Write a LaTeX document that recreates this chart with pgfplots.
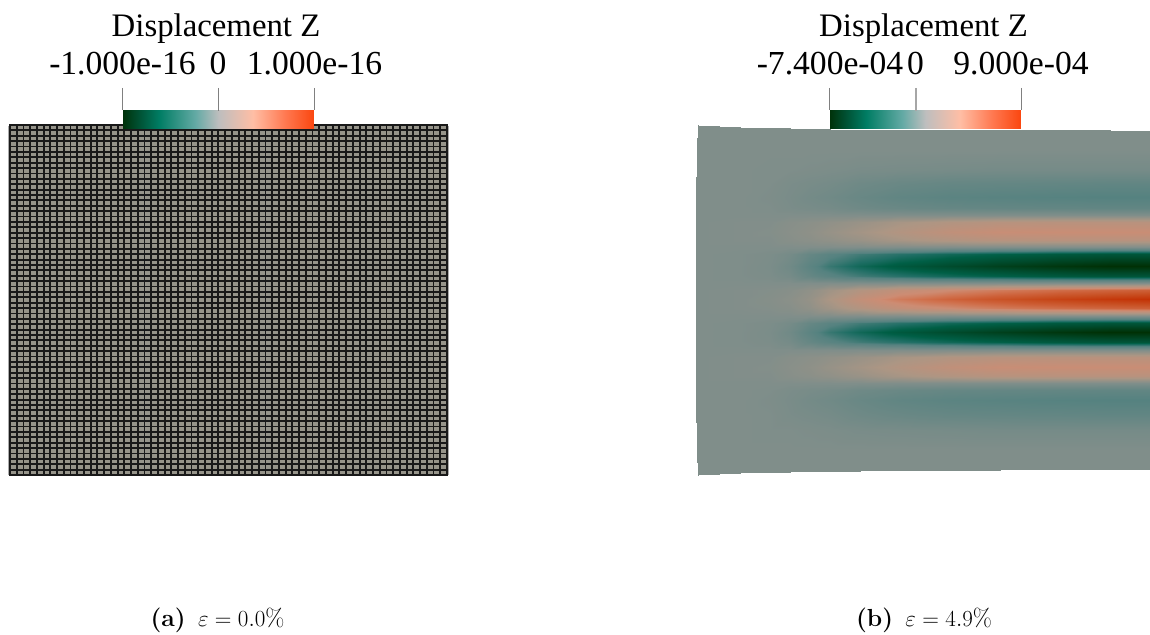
\documentclass[border=0pt]{standalone}
\usepackage{fontspec}
\usepackage{pgfplots}
\pgfplotsset{compat=1.18}
\newfontfamily\cbfamily{Liberation Serif}
\newcommand\cbf{\fontsize{24.6}{28}\selectfont\cbfamily}
\newcommand\cbl{\fontsize{25.2}{28}\selectfont\cbfamily}
\newcommand\capf{\fontsize{18.5}{21}\selectfont}
\pgfplotsset{
 colormap={cb}{rgb255(0)=(0,50,10); rgb255(8)=(0,80,50); rgb255(19)=(0,125,100); rgb255(38)=(100,170,165); rgb255(50)=(190,190,190); rgb255(68)=(255,190,165); rgb255(85)=(255,120,80); rgb255(100)=(250,70,15)},
 colormap={field}{rgb255(0)=(0,48,5); rgb255(22)=(0,75,45); rgb255(38)=(0,95,70); rgb255(50)=(30,110,100); rgb255(67)=(85,130,128); rgb255(100)=(128,142,138); rgb255(125)=(172,150,132); rgb255(150)=(205,140,115); rgb255(162)=(208,115,80); rgb255(172)=(205,95,55); rgb255(182)=(200,80,35); rgb255(200)=(195,50,5)},
}
\begin{document}
\begin{tikzpicture}[x=1pt,y=1pt]
\path[use as bounding box] (0,0) rectangle (862.5,476.25);
% left panel: 65 x 65 mesh
\fill[black!33] (6,120) rectangle (337,382);
\begin{axis}[
 anchor=south west, at={(7.5pt,120pt)},
 scale only axis, width=327.75pt, height=262.5pt,
 xmin=0, xmax=65, ymin=0, ymax=65,
 xtick={0,...,65}, ytick={0,...,65},
 xticklabels={}, yticklabels={},
 major tick length=0pt,
 grid=major, grid style={draw=black!90, line width=1.4pt},
 axis line style={draw=black!90, line width=1.3pt},
 axis background/.style={fill={rgb,255:red,150;green,148;blue,138}},
 axis on top,
]
\addplot[draw=none] coordinates {(0,0) (65,65)};
\end{axis}
\begin{axis}[
 anchor=south west, at={(0pt,0pt)},
 scale only axis, width=862.5pt, height=476.25pt,
 xmin=0, xmax=1150, ymin=0, ymax=635, y dir=reverse,
 hide axis, clip=false,
 point meta min=-1, point meta max=1,
]
% right panel field
\addplot[surf, shader=interp, colormap name=field, mesh/rows=33, mesh/cols=13, mesh/ordering=y varies, point meta=explicit] table[meta=c, row sep=\\] {
x y c\\
698.3 125 0\\ 697.2 150 0\\ 696.5 170 0\\ 696.2 183 0\\ 696 197 0\\ 695.8 208 0\\ 695.7 215 0\\ 695.6 222 0\\ 695.5 232 0\\ 695.5 240 0\\ 695.5 247 0\\ 695.5 254 0\\ 695.5 266 0\\ 695.5 276 0\\ 695.5 283 0\\ 695.5 290 0\\ 695.5 299 0\\ 695.5 308 0\\ 695.5 316 0\\ 695.5 323 0\\ 695.5 332 0\\ 695.5 342 0\\ 695.5 350 0\\ 695.5 357 0\\ 695.5 367 0\\ 695.6 376 0\\ 695.7 383 0\\ 695.8 390 0\\ 696 400 0\\ 696.2 415 0\\ 696.6 430 0\\ 697.3 450 0\\ 698.3 475 0\\
740 127 0\\ 740 150 0\\ 740 170 0\\ 740 183 0\\ 740 197 0\\ 740 208 0\\ 740 215 0\\ 740 222 .01\\ 740 232 .01\\ 740 240 .01\\ 740 247 0\\ 740 254 -.01\\ 740 266 -.01\\ 740 276 -.01\\ 740 283 0\\ 740 290 .01\\ 740 299 .01\\ 740 308 .01\\ 740 316 0\\ 740 323 -.01\\ 740 332 -.01\\ 740 342 -.01\\ 740 350 0\\ 740 357 .01\\ 740 367 .01\\ 740 376 .01\\ 740 383 0\\ 740 390 0\\ 740 400 0\\ 740 415 0\\ 740 430 0\\ 740 450 0\\ 740 472.8 0\\
770 127.7 0\\ 770 150 0\\ 770 170 -.01\\ 770 183 -.01\\ 770 197 -.02\\ 770 208 -.01\\ 770 215 0\\ 770 222 .01\\ 770 232 .02\\ 770 240 .01\\ 770 247 0\\ 770 254 -.03\\ 770 266 -.04\\ 770 276 -.03\\ 770 283 0\\ 770 290 .02\\ 770 299 .03\\ 770 308 .02\\ 770 316 0\\ 770 323 -.03\\ 770 332 -.04\\ 770 342 -.03\\ 770 350 0\\ 770 357 .01\\ 770 367 .02\\ 770 376 .01\\ 770 383 0\\ 770 390 -.01\\ 770 400 -.02\\ 770 415 -.01\\ 770 430 -.01\\ 770 450 0\\ 770 472 0\\
790 128 0\\ 790 150 0\\ 790 170 -.01\\ 790 183 -.04\\ 790 197 -.05\\ 790 208 -.04\\ 790 215 0\\ 790 222 .04\\ 790 232 .05\\ 790 240 .04\\ 790 247 0\\ 790 254 -.08\\ 790 266 -.12\\ 790 276 -.08\\ 790 283 0\\ 790 290 .04\\ 790 299 .06\\ 790 308 .04\\ 790 316 0\\ 790 323 -.08\\ 790 332 -.12\\ 790 342 -.08\\ 790 350 0\\ 790 357 .04\\ 790 367 .05\\ 790 376 .04\\ 790 383 0\\ 790 390 -.04\\ 790 400 -.05\\ 790 415 -.04\\ 790 430 -.01\\ 790 450 0\\ 790 471.6 0\\
810 128.6 0\\ 810 150 0\\ 810 170 -.02\\ 810 183 -.06\\ 810 197 -.09\\ 810 208 -.06\\ 810 215 0\\ 810 222 .06\\ 810 232 .08\\ 810 240 .06\\ 810 247 0\\ 810 254 -.2\\ 810 266 -.28\\ 810 276 -.2\\ 810 283 0\\ 810 290 .09\\ 810 299 .12\\ 810 308 .09\\ 810 316 0\\ 810 323 -.2\\ 810 332 -.28\\ 810 342 -.2\\ 810 350 0\\ 810 357 .06\\ 810 367 .08\\ 810 376 .06\\ 810 383 0\\ 810 390 -.06\\ 810 400 -.09\\ 810 415 -.06\\ 810 430 -.02\\ 810 450 0\\ 810 471.2 0\\
830 129.2 0\\ 830 150 0\\ 830 170 -.03\\ 830 183 -.08\\ 830 197 -.12\\ 830 208 -.08\\ 830 215 0\\ 830 222 .09\\ 830 232 .13\\ 830 240 .09\\ 830 247 0\\ 830 254 -.29\\ 830 266 -.42\\ 830 276 -.29\\ 830 283 0\\ 830 290 .18\\ 830 299 .25\\ 830 308 .18\\ 830 316 0\\ 830 323 -.29\\ 830 332 -.42\\ 830 342 -.29\\ 830 350 0\\ 830 357 .09\\ 830 367 .13\\ 830 376 .09\\ 830 383 0\\ 830 390 -.08\\ 830 400 -.12\\ 830 415 -.08\\ 830 430 -.03\\ 830 450 0\\ 830 471 0\\
860 129.6 0\\ 860 150 0\\ 860 170 -.05\\ 860 183 -.13\\ 860 197 -.18\\ 860 208 -.13\\ 860 215 0\\ 860 222 .14\\ 860 232 .2\\ 860 240 .14\\ 860 247 0\\ 860 254 -.39\\ 860 266 -.55\\ 860 276 -.39\\ 860 283 0\\ 860 290 .3\\ 860 299 .42\\ 860 308 .3\\ 860 316 0\\ 860 323 -.39\\ 860 332 -.55\\ 860 342 -.39\\ 860 350 0\\ 860 357 .14\\ 860 367 .2\\ 860 376 .14\\ 860 383 0\\ 860 390 -.13\\ 860 400 -.18\\ 860 415 -.13\\ 860 430 -.05\\ 860 450 0\\ 860 470.6 0\\
900 130 0\\ 900 150 0\\ 900 170 -.06\\ 900 183 -.17\\ 900 197 -.24\\ 900 208 -.17\\ 900 215 0\\ 900 222 .22\\ 900 232 .3\\ 900 240 .22\\ 900 247 0\\ 900 254 -.47\\ 900 266 -.67\\ 900 276 -.47\\ 900 283 0\\ 900 290 .42\\ 900 299 .58\\ 900 308 .42\\ 900 316 0\\ 900 323 -.47\\ 900 332 -.67\\ 900 342 -.47\\ 900 350 0\\ 900 357 .22\\ 900 367 .3\\ 900 376 .22\\ 900 383 0\\ 900 390 -.17\\ 900 400 -.24\\ 900 415 -.17\\ 900 430 -.06\\ 900 450 0\\ 900 470.2 0\\
950 130.2 0\\ 950 150 0\\ 950 170 -.07\\ 950 183 -.2\\ 950 197 -.28\\ 950 208 -.2\\ 950 215 0\\ 950 222 .29\\ 950 232 .4\\ 950 240 .29\\ 950 247 0\\ 950 254 -.55\\ 950 266 -.78\\ 950 276 -.55\\ 950 283 0\\ 950 290 .5\\ 950 299 .7\\ 950 308 .5\\ 950 316 0\\ 950 323 -.55\\ 950 332 -.78\\ 950 342 -.55\\ 950 350 0\\ 950 357 .29\\ 950 367 .4\\ 950 376 .29\\ 950 383 0\\ 950 390 -.2\\ 950 400 -.28\\ 950 415 -.2\\ 950 430 -.07\\ 950 450 0\\ 950 469.9 0\\
1000 130.3 0\\ 1000 150 0\\ 1000 170 -.08\\ 1000 183 -.21\\ 1000 197 -.3\\ 1000 208 -.21\\ 1000 215 0\\ 1000 222 .33\\ 1000 232 .46\\ 1000 240 .33\\ 1000 247 0\\ 1000 254 -.61\\ 1000 266 -.87\\ 1000 276 -.61\\ 1000 283 0\\ 1000 290 .58\\ 1000 299 .8\\ 1000 308 .58\\ 1000 316 0\\ 1000 323 -.61\\ 1000 332 -.87\\ 1000 342 -.61\\ 1000 350 0\\ 1000 357 .33\\ 1000 367 .46\\ 1000 376 .33\\ 1000 383 0\\ 1000 390 -.21\\ 1000 400 -.3\\ 1000 415 -.21\\ 1000 430 -.08\\ 1000 450 0\\ 1000 469.6 0\\
1060 130.4 0\\ 1060 150 0\\ 1060 170 -.08\\ 1060 183 -.22\\ 1060 197 -.32\\ 1060 208 -.22\\ 1060 215 0\\ 1060 222 .34\\ 1060 232 .47\\ 1060 240 .34\\ 1060 247 0\\ 1060 254 -.67\\ 1060 266 -.95\\ 1060 276 -.67\\ 1060 283 0\\ 1060 290 .65\\ 1060 299 .9\\ 1060 308 .65\\ 1060 316 0\\ 1060 323 -.67\\ 1060 332 -.95\\ 1060 342 -.67\\ 1060 350 0\\ 1060 357 .34\\ 1060 367 .47\\ 1060 376 .34\\ 1060 383 0\\ 1060 390 -.22\\ 1060 400 -.32\\ 1060 415 -.22\\ 1060 430 -.08\\ 1060 450 0\\ 1060 469.4 0\\
1110 130.4 0\\ 1110 150 0\\ 1110 170 -.08\\ 1110 183 -.23\\ 1110 197 -.33\\ 1110 208 -.23\\ 1110 215 0\\ 1110 222 .34\\ 1110 232 .47\\ 1110 240 .34\\ 1110 247 0\\ 1110 254 -.7\\ 1110 266 -1\\ 1110 276 -.7\\ 1110 283 0\\ 1110 290 .69\\ 1110 299 .96\\ 1110 308 .69\\ 1110 316 0\\ 1110 323 -.7\\ 1110 332 -1\\ 1110 342 -.7\\ 1110 350 0\\ 1110 357 .34\\ 1110 367 .47\\ 1110 376 .34\\ 1110 383 0\\ 1110 390 -.23\\ 1110 400 -.33\\ 1110 415 -.23\\ 1110 430 -.08\\ 1110 450 0\\ 1110 469.2 0\\
1150 130.5 0\\ 1150 150 0\\ 1150 170 -.08\\ 1150 183 -.23\\ 1150 197 -.33\\ 1150 208 -.23\\ 1150 215 0\\ 1150 222 .34\\ 1150 232 .47\\ 1150 240 .34\\ 1150 247 0\\ 1150 254 -.7\\ 1150 266 -1\\ 1150 276 -.7\\ 1150 283 0\\ 1150 290 .72\\ 1150 299 1\\ 1150 308 .72\\ 1150 316 0\\ 1150 323 -.7\\ 1150 332 -1\\ 1150 342 -.7\\ 1150 350 0\\ 1150 357 .34\\ 1150 367 .47\\ 1150 376 .34\\ 1150 383 0\\ 1150 390 -.23\\ 1150 400 -.33\\ 1150 415 -.23\\ 1150 430 -.08\\ 1150 450 0\\ 1150 469 0\\
};
% colour bars
\addplot[surf, shader=interp, colormap name=cb, mesh/rows=2, mesh/cols=2, point meta=explicit] table[meta=c, row sep=\\] {
x y c\\ 123 110 -1\\ 313.7 110 1\\ 123 128.7 -1\\ 313.7 128.7 1\\
};
\addplot[surf, shader=interp, colormap name=cb, mesh/rows=2, mesh/cols=2, point meta=explicit] table[meta=c, row sep=\\] {
x y c\\ 830 110 -1\\ 1020.7 110 1\\ 830 128.7 -1\\ 1020.7 128.7 1\\
};
% colour-bar ticks
\draw[black!50, line width=.75pt] (axis cs:122.5,88) -- (axis cs:122.5,110);
\draw[black!50, line width=.75pt] (axis cs:218.5,88) -- (axis cs:218.5,111.5);
\draw[black!50, line width=.75pt] (axis cs:314.5,88) -- (axis cs:314.5,110);
\draw[black!50, line width=.75pt] (axis cs:829.5,88) -- (axis cs:829.5,110);
\draw[black!35, line width=1pt] (axis cs:916,88) -- (axis cs:916,111.5);
\draw[black!50, line width=.75pt] (axis cs:1021,88) -- (axis cs:1021,110);
% colour-bar text
\node[anchor=base, font=\cbf, inner sep=0] at (axis cs:216,36.5) {Displacement Z};
\node[anchor=base, font=\cbl, inner sep=0] at (axis cs:122.5,74.5) {-1.000e-16};
\node[anchor=base, font=\cbl, inner sep=0] at (axis cs:218,74.5) {0};
\node[anchor=base, font=\cbl, inner sep=0] at (axis cs:314.5,74.5) {1.000e-16};
\node[anchor=base, font=\cbf, inner sep=0] at (axis cs:923.5,36.5) {Displacement Z};
\node[anchor=base, font=\cbl, inner sep=0] at (axis cs:830,74.5) {-7.400e-04};
\node[anchor=base, font=\cbl, inner sep=0] at (axis cs:915.5,74.5) {0};
\node[anchor=base, font=\cbl, inner sep=0] at (axis cs:1021,74.5) {9.000e-04};
% captions
\node[anchor=base, font=\capf, inner sep=0] at (axis cs:217.5,626.5) {\textbf{(a)}\enspace$\varepsilon=0.0\%$};
\node[anchor=base, font=\capf, inner sep=0] at (axis cs:924,626.5) {\textbf{(b)}\enspace$\varepsilon=4.9\%$};
\end{axis}
\end{tikzpicture}
\end{document}
